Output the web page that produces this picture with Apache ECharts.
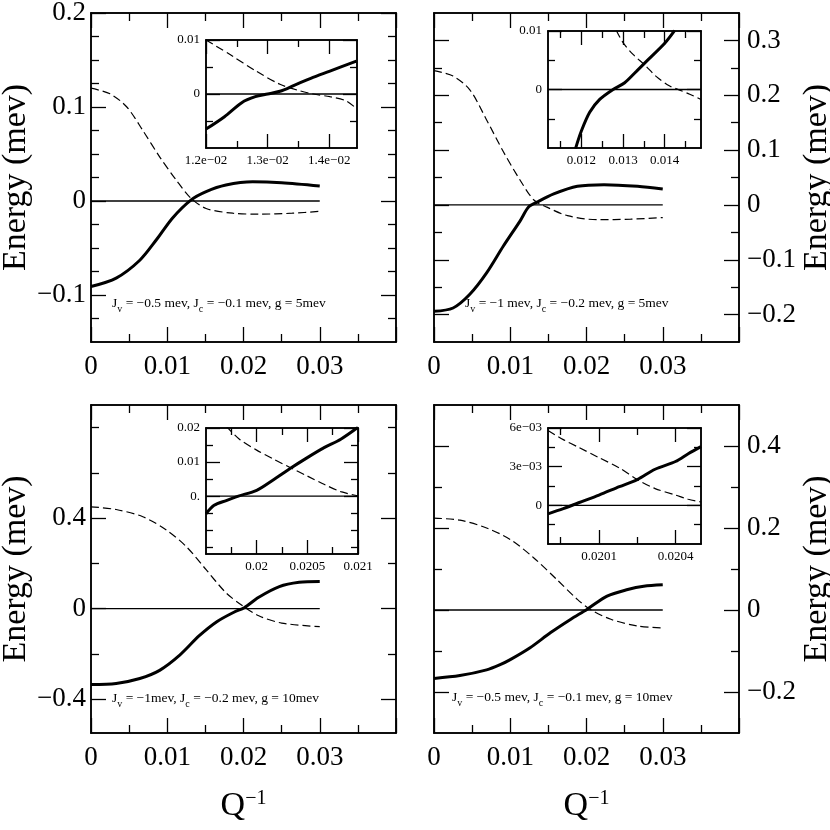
<!DOCTYPE html>
<html lang="en">
<head>
  <meta charset="UTF-8">
  <title>Energy vs Q^-1</title>
  <style>
    html, body { margin: 0; padding: 0; background: #fff; }
    #chart { width: 830px; height: 830px; }
  </style>
  <script src="https://cdn.jsdelivr.net/npm/echarts@6.0.0/dist/echarts.min.js"></script>
</head>
<body>
  <div id="chart"></div>
  <script>
    // curves, [Q^-1, energy (mev)]
    var p1Solid = [[0, -0.091], [0.0033, -0.082], [0.0064, -0.063], [0.0086, -0.041], [0.0107, -0.018], [0.0131, 0.001], [0.0151, 0.010], [0.0177, 0.017], [0.0212, 0.0205], [0.025, 0.0195], [0.030, 0.016]];
    var p1Dashed = [[0, 0.12], [0.0025, 0.114], [0.0047, 0.100], [0.0068, 0.075], [0.009, 0.047], [0.0112, 0.022], [0.0131, 0.003], [0.0151, -0.008], [0.0186, -0.013], [0.022, -0.014], [0.0264, -0.013], [0.030, -0.011]];
    var p2Solid = [[0, -0.194], [0.0025, -0.188], [0.0047, -0.163], [0.0069, -0.124], [0.0091, -0.075], [0.0113, -0.029], [0.0124, -0.004], [0.0135, 0.005], [0.0157, 0.020], [0.0188, 0.034], [0.0223, 0.037], [0.0267, 0.034], [0.030, 0.029]];
    var p2Dashed = [[0, 0.245], [0.0025, 0.235], [0.0047, 0.21], [0.0069, 0.155], [0.0091, 0.097], [0.0113, 0.045], [0.0131, 0.009], [0.0148, -0.004], [0.0175, -0.0196], [0.0214, -0.027], [0.0258, -0.026], [0.030, -0.023]];
    var p3Solid = [[0, -0.336], [0.0033, -0.331], [0.0064, -0.309], [0.009, -0.273], [0.0116, -0.207], [0.0142, -0.12], [0.0165, -0.058], [0.0188, -0.015], [0.0201, 0.004], [0.022, 0.05], [0.0247, 0.097], [0.0273, 0.116], [0.030, 0.12]];
    var p3Dashed = [[0, 0.45], [0.0033, 0.438], [0.0068, 0.406], [0.0099, 0.347], [0.0125, 0.274], [0.0151, 0.172], [0.0177, 0.07], [0.0199, 0.012], [0.022, -0.032], [0.025, -0.064], [0.030, -0.08]];
    var p4Solid = [[0, -0.167], [0.0034, -0.160], [0.0069, -0.146], [0.0086, -0.134], [0.01, -0.121], [0.0126, -0.092], [0.0153, -0.055], [0.0179, -0.023], [0.0201, 0.002], [0.0227, 0.034], [0.0254, 0.05], [0.0275, 0.058], [0.030, 0.0615]];
    var p4Dashed = [[0, 0.224], [0.0034, 0.219], [0.0069, 0.2], [0.01, 0.172], [0.0131, 0.127], [0.0161, 0.0745], [0.0188, 0.026], [0.0205, 0.0016], [0.0232, -0.0227], [0.0267, -0.039], [0.030, -0.044]];

    var i1Solid = [[0.012, -0.0065], [0.0123, -0.0042], [0.01258, -0.0016], [0.0128, -0.0005], [0.013, 0], [0.0132, 0.0005], [0.01343, 0.0016], [0.0137, 0.0029], [0.014, 0.0042], [0.01444, 0.0061]];
    var i1Dashed = [[0.012, 0.01], [0.01239, 0.0073], [0.01282, 0.0042], [0.0132, 0.0018], [0.01352, 0.0006], [0.01374, 0], [0.01401, -0.0005], [0.01428, -0.0013], [0.01444, -0.0027]];
    var i2Solid = [[0.01186, -0.0101], [0.012, -0.0071], [0.0122, -0.0039], [0.01244, -0.0017], [0.01276, 0], [0.01304, 0.00116], [0.01332, 0.0031], [0.01356, 0.0048], [0.014, 0.0079], [0.01424, 0.0101]];
    var i2Dashed = [[0.01284, 0.0101], [0.013, 0.008], [0.01324, 0.006], [0.01352, 0.0042], [0.0138, 0.0022], [0.01412, 0.0006], [0.01436, -0.0001], [0.0146, -0.0008], [0.01487, -0.0017]];
    var i3Solid = [[0.0195, -0.0052], [0.01958, -0.0027], [0.0197, -0.0013], [0.01982, 0], [0.02, 0.0017], [0.02017, 0.0049], [0.02033, 0.0081], [0.0205, 0.0113], [0.02067, 0.0143], [0.02083, 0.0167], [0.021, 0.0202]];
    var i3Dashed = [[0.0197, 0.0205], [0.01983, 0.0167], [0.02, 0.0135], [0.02017, 0.0108], [0.02033, 0.0084], [0.0205, 0.0059], [0.02067, 0.0034], [0.02083, 0.0013], [0.021, 0.0001]];
    var i4Solid = [[0.0199, -0.00066], [0.01996, -0.00026], [0.02002, 0.0002], [0.0201, 0.0008], [0.02018, 0.00145], [0.02025, 0.002], [0.02032, 0.0028], [0.0204, 0.0034], [0.02045, 0.004], [0.0205, 0.00455]];
    var i4Dashed = [[0.0199, 0.0058], [0.01996, 0.0051], [0.02002, 0.0045], [0.0201, 0.0037], [0.02018, 0.0029], [0.02025, 0.002], [0.02032, 0.0013], [0.0204, 0.0008], [0.02045, 0.00047], [0.0205, 0.00026]];

    // axis ranges
    var mainX = [0, 0.04];
    var p1Y = [-0.15, 0.2], p2Y = [-0.25, 0.35], p3Y = [-0.55, 0.9], p4Y = [-0.3, 0.5];
    var i1X = [0.012, 0.01445], i2X = [0.0112, 0.01487], i3X = [0.0195, 0.021], i4X = [0.0199, 0.0205];
    var i1Y = [-0.01, 0.01], i2Y = [-0.01, 0.01], i3Y = [-0.017, 0.02], i4Y = [-0.003, 0.006];

    // ticks and tick labels
    var mainXTicks = { major: [0, 0.01, 0.02, 0.03, 0.04], minor: [0.005, 0.015, 0.025, 0.035], labels: ['0', '0.01', '0.02', '0.03', ''] };
    var p1YTicks = { major: [-0.1, 0, 0.1, 0.2], minor: [-0.125, -0.075, -0.05, -0.025, 0.025, 0.05, 0.075, 0.125, 0.15, 0.175], labels: ['\u22120.1', '0', '0.1', '0.2'] };
    var p2YTicks = { major: [-0.2, -0.1, 0, 0.1, 0.2, 0.3], minor: [-0.15, -0.05, 0.05, 0.15, 0.25], labels: ['\u22120.2', '\u22120.1', '0', '0.1', '0.2', '0.3'] };
    var p3YTicks = { major: [-0.4, 0, 0.4], minor: [-0.2, 0.2, 0.6, 0.8], labels: ['\u22120.4', '0', '0.4'] };
    var p4YTicks = { major: [-0.2, 0, 0.2, 0.4], minor: [-0.1, 0.1, 0.3], labels: ['\u22120.2', '0', '0.2', '0.4'] };
    var i1XTicks = { major: [0.012, 0.013, 0.014], minor: [0.0125, 0.0135], labels: ['1.2e\u221202', '1.3e\u221202', '1.4e\u221202'] };
    var i2XTicks = { major: [0.012, 0.013, 0.014], minor: [0.0115, 0.0125, 0.0135, 0.0145], labels: ['0.012', '0.013', '0.014'] };
    var i3XTicks = { major: [0.02, 0.0205, 0.021], minor: [0.01975, 0.02025, 0.02075], labels: ['0.02', '0.0205', '0.021'] };
    var i4XTicks = { major: [0.0201, 0.0204], minor: [0.01995, 0.02025], labels: ['0.0201', '0.0204'] };
    var i1YTicks = { major: [0, 0.01], minor: [-0.005, 0.005], labels: ['0', '0.01'] };
    var i2YTicks = { major: [0, 0.01], minor: [-0.005, 0.005], labels: ['0', '0.01'] };
    var i3YTicks = { major: [0, 0.01, 0.02], minor: [-0.015, -0.01, -0.005, 0.005, 0.015], labels: ['0.', '0.01', '0.02'] };
    var i4YTicks = { major: [0, 0.003, 0.006], minor: [-0.0015, 0.0015, 0.0045], labels: ['0', '3e\u221203', '6e\u221203'] };

    var yName = 'Energy (mev)';
    var xName = 'Q{s|\u22121}';
    var noteTexts = [
      'J{s|v} = \u22120.5 mev, J{s|c} = \u22120.1 mev, g = 5mev',
      'J{s|v} = \u22121 mev, J{s|c} = \u22120.2 mev, g = 5mev',
      'J{s|v} = \u22121mev, J{s|c} = \u22120.2 mev, g = 10mev',
      'J{s|v} = \u22120.5 mev, J{s|c} = \u22120.1 mev, g = 10mev'
    ];

    var FONT = '"Liberation Serif", "Times New Roman", serif';
    var grids = [], xAxes = [], yAxes = [], series = [];

    function labelFor(t) {
      return function (v) {
        for (var i = 0; i < t.major.length; i++) {
          if (Math.abs(t.major[i] - v) < 1e-10) return t.labels[i];
        }
        return '';
      };
    }

    function axis(gi, pos, range, values, len, t, o, margin, name) {
      var a = {
        type: 'value', gridIndex: gi, position: pos, min: range[0], max: range[1],
        axisLine: { show: true, onZero: false, lineStyle: { color: '#000', width: 1.5 } },
        axisTick: { show: true, inside: true, length: len, customValues: values, lineStyle: { color: '#000', width: 1.3 } },
        axisLabel: { show: false },
        splitLine: { show: false }
      };
      if (t) {
        a.axisLabel = {
          show: true, customValues: t.major, formatter: labelFor(t),
          fontFamily: FONT, fontSize: o.fs, color: '#000', margin: margin
        };
      }
      if (name) {
        a.name = name.text;
        a.nameLocation = 'middle';
        a.nameGap = name.gap;
        if (name.rotate) a.nameRotate = name.rotate;
        a.nameTextStyle = {
          fontFamily: FONT, fontSize: name.fs, color: '#000',
          rich: { s: { fontFamily: FONT, fontSize: 20, color: '#000', verticalAlign: 'top' } }
        };
      }
      return a;
    }

    function panel(rect, xr, yr, xt, yt, o) {
      var gi = grids.length;
      grids.push({ left: rect[0], top: rect[1], width: rect[2], height: rect[3], show: true, backgroundColor: '#fff', borderWidth: 0, containLabel: false, outerBoundsMode: 'none' });
      var xi = xAxes.length, yi = yAxes.length;
      ['bottom', 'top'].forEach(function (pos) {
        var lab = pos === 'bottom';
        xAxes.push(axis(gi, pos, xr, xt.major, o.maj, lab ? xt : null, o, o.xm, lab ? o.xName : null));
        xAxes.push(axis(gi, pos, xr, xt.minor, o.min, null, o, 0, null));
      });
      ['left', 'right'].forEach(function (pos) {
        var lab = pos === o.ySide;
        yAxes.push(axis(gi, pos, yr, yt.major, o.maj, lab ? yt : null, o, o.ym, lab ? o.yName : null));
        yAxes.push(axis(gi, pos, yr, yt.minor, o.min, null, o, 0, null));
      });
      return { x: xi, y: yi };
    }

    function curves(ax, solid, dashed, zero) {
      var base = { type: 'line', xAxisIndex: ax.x, yAxisIndex: ax.y, symbol: 'none', silent: true };
      series.push(Object.assign({}, base, { data: zero, lineStyle: { color: '#000', width: 1.3 } }));
      series.push(Object.assign({}, base, { data: dashed, smooth: 0.3, lineStyle: { color: '#000', width: 1.2, type: [8, 4] } }));
      series.push(Object.assign({}, base, { data: solid, smooth: 0.3, lineStyle: { color: '#000', width: 3 } }));
    }

    var mainZero = [[0, 0], [0.03, 0]];
    var leftMain = { ySide: 'left', fs: 27, xm: 11, ym: 5, maj: 15, min: 8, yName: { text: yName, gap: 56, rotate: 90, fs: 34 } };
    var rightMain = { ySide: 'right', fs: 27, xm: 11, ym: 8, maj: 15, min: 8, yName: { text: yName, gap: 52, rotate: 90, fs: 34 } };
    var inset = { ySide: 'left', fs: 13, xm: 6, ym: 6, maj: 14, min: 7 };
    var qName = { text: xName, gap: 56, fs: 34 };

    curves(panel([91, 13, 305, 329], mainX, p1Y, mainXTicks, p1YTicks, leftMain), p1Solid, p1Dashed, mainZero);
    curves(panel([434, 13, 305, 329], mainX, p2Y, mainXTicks, p2YTicks, rightMain), p2Solid, p2Dashed, mainZero);
    curves(panel([91, 405, 305, 328], mainX, p3Y, mainXTicks, p3YTicks, Object.assign({}, leftMain, { xName: qName })), p3Solid, p3Dashed, mainZero);
    curves(panel([434, 405, 305, 328], mainX, p4Y, mainXTicks, p4YTicks, Object.assign({}, rightMain, { xName: qName })), p4Solid, p4Dashed, mainZero);

    curves(panel([206, 40, 151, 108], i1X, i1Y, i1XTicks, i1YTicks, inset), i1Solid, i1Dashed, [[i1X[0], 0], [i1X[1], 0]]);
    curves(panel([548, 31, 153, 117], i2X, i2Y, i2XTicks, i2YTicks, inset), i2Solid, i2Dashed, [[i2X[0], 0], [i2X[1], 0]]);
    curves(panel([206, 428, 152, 126], i3X, i3Y, i3XTicks, i3YTicks, inset), i3Solid, i3Dashed, [[i3X[0], 0], [i3X[1], 0]]);
    curves(panel([548, 428, 153, 116], i4X, i4Y, i4XTicks, i4YTicks, inset), i4Solid, i4Dashed, [[i4X[0], 0], [i4X[1], 0]]);

    var notePos = [[112, 303], [465, 303], [112, 698], [452, 697]];
    var graphic = noteTexts.map(function (txt, i) {
      return {
        type: 'text', x: notePos[i][0], y: notePos[i][1], z: 10,
        style: {
          text: txt, fontFamily: FONT, fontSize: 13.5, fill: '#000', verticalAlign: 'middle', align: 'left',
          rich: { s: { fontFamily: FONT, fontSize: 10, fill: '#000', padding: [12, 0, 0, 0] } }
        }
      };
    });

    var chart = echarts.init(document.getElementById('chart'));
    chart.setOption({
      animation: false,
      backgroundColor: '#fff',
      grid: grids,
      xAxis: xAxes,
      yAxis: yAxes,
      series: series,
      graphic: graphic
    });
  </script>
</body>
</html>
